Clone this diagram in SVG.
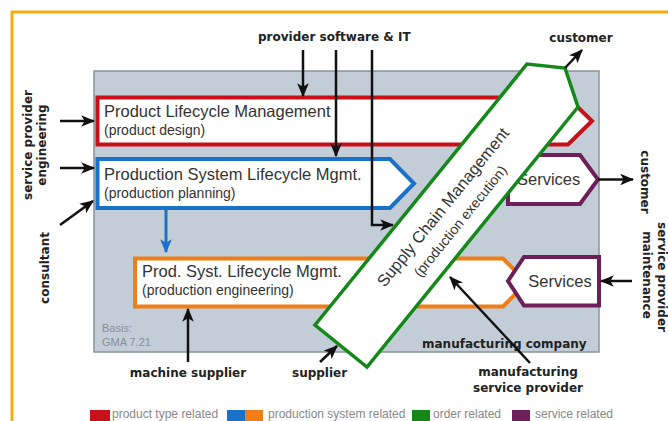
<svg xmlns="http://www.w3.org/2000/svg" width="668" height="421" viewBox="0 0 668 421">
<defs>
<style>
.t{font-family:"Liberation Sans",Arial,sans-serif;fill:#333}
.big{font-size:16.5px}
.sub{font-size:14px}
.lbl{font-family:"DejaVu Sans",Verdana,sans-serif;font-weight:bold;font-size:12px;fill:#222}
.leg{font-family:"Liberation Sans",Arial,sans-serif;font-size:12px;fill:#888}
.arr{stroke:#111;stroke-width:2.5;fill:none;marker-end:url(#ah)}
.box{fill:#fff;stroke-width:4;stroke-linejoin:miter}
</style>
<marker id="ah" markerUnits="userSpaceOnUse" markerWidth="14" markerHeight="12" refX="11" refY="5" orient="auto" viewBox="0 0 12 10">
<path d="M0,0 L12,5 L0,10 L3,5 z" fill="#111"/>
</marker>
<marker id="ahb" markerUnits="userSpaceOnUse" markerWidth="14" markerHeight="12" refX="11" refY="5" orient="auto" viewBox="0 0 12 10">
<path d="M0,0 L12,5 L0,10 L3,5 z" fill="#1a72c8"/>
</marker>
</defs>
<rect x="0" y="0" width="668" height="421" fill="#fff"/>
<rect x="12" y="12" width="700" height="460" fill="none" stroke="#f7ac12" stroke-width="3"/>

<g id="company">
<rect x="94" y="71" width="505" height="281" fill="#c3cdd8" stroke="#8c9298" stroke-width="1.5"/>
<text class="t" x="102" y="332" font-size="11" style="fill:#8a8f96">Basis:</text>
<text class="t" x="102" y="346" font-size="11" style="fill:#8a8f96">GMA 7.21</text>
<text class="lbl" x="422" y="348">manufacturing company</text>
</g>

<g id="plm">
<polygon class="box" points="97.5,97.5 568,97.5 592,121 568,144.5 97.5,144.5" stroke="#c8101a"/>
<text class="t big" x="104" y="117">Product Lifecycle Management</text>
<text class="t sub" x="104" y="135">(product design)</text>
</g>

<g id="pslm">
<polygon class="box" points="97.5,159 390,159 414,183.5 390,208 97.5,208" stroke="#1a72c8"/>
<text class="t big" x="104" y="180">Production System Lifecycle Mgmt.</text>
<text class="t sub" x="104" y="198">(production planning)</text>
</g>

<g id="pslm2">
<polygon class="box" points="135,258.5 503,258.5 527,282.5 503,306.5 135,306.5" stroke="#f07e14"/>
<text class="t big" x="142" y="277">Prod. Syst. Lifecycle Mgmt.</text>
<text class="t sub" x="142" y="295">(production engineering)</text>
</g>

<g id="services2">
<polygon class="box" points="508,281 524,257 599,257 599,305.5 524,305.5" stroke="#6c1f58" stroke-width="3.5"/>
<text class="t big" x="560" y="287" text-anchor="middle">Services</text>
</g>

<g id="services1">
<polygon class="box" points="508,155 580,155 598,179.5 580,204 508,204" stroke="#6c1f58" stroke-width="3.5"/>
<text class="t big" x="517" y="185">Services</text>
</g>

<g id="connectors">
<line class="arr" x1="303" y1="50" x2="303" y2="96"/>
<line class="arr" x1="336" y1="50" x2="336" y2="156"/>
<polyline class="arr" points="372,50 372,225 393,225"/>
<line class="arr" x1="60" y1="121" x2="94" y2="121"/>
<line class="arr" x1="60" y1="168" x2="94" y2="168"/>
<line class="arr" x1="60" y1="225" x2="93" y2="201"/>
<line class="arr" x1="188" y1="362" x2="188" y2="309"/>
<line class="arr" x1="320" y1="362" x2="337" y2="346"/>
<line class="arr" x1="598" y1="179.5" x2="633" y2="179.5"/>
<line class="arr" x1="632" y1="281" x2="601" y2="281"/>
<line x1="166" y1="209" x2="166" y2="252" stroke="#1a72c8" stroke-width="3" marker-end="url(#ahb)"/>
</g>

<g id="scm">
<polygon points="315,325 527,64 565,68 578,107 367,367" fill="#fff" stroke="#14891a" stroke-width="3.5" stroke-linejoin="miter"/>
<g transform="translate(341,346) rotate(-51)">
<text class="t big" x="172" y="-2.5" text-anchor="middle">Supply Chain Management</text>
<text class="t sub" x="172" y="19" text-anchor="middle">(production execution)</text>
</g>
</g>

<g id="connectors2">
<line class="arr" x1="565" y1="68" x2="582" y2="50"/>
<line class="arr" x1="530" y1="363" x2="450" y2="277"/>
</g>

<g id="labels">
<text class="lbl" x="258" y="41">provider software &amp; IT</text>
<text class="lbl" x="581" y="42" text-anchor="middle">customer</text>
<text class="lbl" transform="translate(32,145) rotate(-90)" text-anchor="middle">service provider</text>
<text class="lbl" transform="translate(46,145) rotate(-90)" text-anchor="middle">engineering</text>
<text class="lbl" transform="translate(49,268) rotate(-90)" text-anchor="middle">consultant</text>
<text class="lbl" transform="translate(641,182) rotate(90)" text-anchor="middle">customer</text>
<text class="lbl" transform="translate(658,277) rotate(90)" text-anchor="middle">service provider</text>
<text class="lbl" transform="translate(643,275) rotate(90)" text-anchor="middle">maintenance</text>
<text class="lbl" x="188" y="377" text-anchor="middle">machine supplier</text>
<text class="lbl" x="292" y="377">supplier</text>
<text class="lbl" x="528" y="376" text-anchor="middle">manufacturing</text>
<text class="lbl" x="528" y="392" text-anchor="middle">service provider</text>
</g>

<g id="legend">
<rect x="90" y="410" width="20" height="14" fill="#c8101a"/>
<text class="leg" x="112" y="417.5">product type related</text>
<rect x="227" y="410" width="18" height="14" fill="#1a72c8"/>
<rect x="245" y="410" width="18" height="14" fill="#f07e14"/>
<text class="leg" x="268" y="417.5">production system related</text>
<rect x="412" y="410" width="18" height="14" fill="#14891a"/>
<text class="leg" x="433" y="417.5">order related</text>
<rect x="512" y="410" width="18" height="14" fill="#6c1f58"/>
<text class="leg" x="535" y="417.5">service related</text>
</g>
</svg>
